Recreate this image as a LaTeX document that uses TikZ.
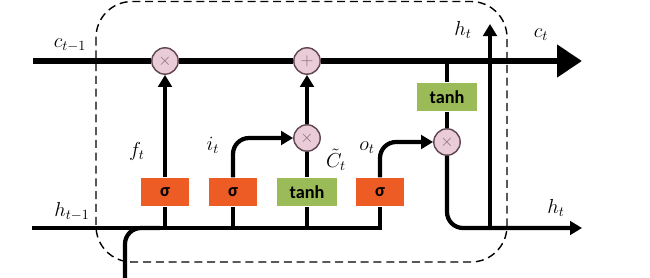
\documentclass[tikz,border=0pt]{standalone}
\usepackage{fontspec}
\setsansfont{Carlito}
\usetikzlibrary{arrows.meta,positioning,calc}
\definecolor{sigorange}{RGB}{238,92,38}
\definecolor{tanhgreen}{RGB}{155,187,89}
\definecolor{oppink}{RGB}{234,204,216}
\definecolor{opborder}{RGB}{95,70,80}

\begin{document}
\begin{tikzpicture}[
    x=0.025cm, y=-0.025cm,
    every node/.style={font=\Large},
    gate/.style={rectangle, fill=#1, inner sep=0pt, minimum height=0.72cm, minimum width=1.2cm, font=\sffamily\bfseries\fontsize{13}{15}\selectfont},
    sig/.style={gate=sigorange},
    act/.style={gate=tanhgreen, minimum width=1.5cm},
    op/.style={circle, draw=opborder, fill=oppink, line width=1pt, minimum size=0.66cm, inner sep=0pt, text=opborder!80, font=\large},
    wire/.style={line width=3pt, rounded corners=0.4cm},
    arr/.style={wire, -{Triangle[length=0.3cm, width=0.34cm]}},
    cellarr/.style={line width=4.5pt, -{Triangle[length=0.62cm, width=0.78cm]}},
    cellbox/.style={dashed, dash pattern=on 0.2cm off 0.12cm, line width=1pt, rounded corners=0.9cm},
]
\useasboundingbox (0,0) rectangle (650,277);
% cell border
\draw[cellbox] (96,1.5) rectangle (507,262);
% operators
\node[op] (fmul) at (165,61) {$\times$};
\node[op] (cadd) at (307,61) {$+$};
\node[op] (imul) at (307,138) {$\times$};
\node[op] (omul) at (447,142) {$\times$};
% gates
\node[sig] (fsig) at (165,192) {σ};
\node[sig] (isig) at (233,192) {σ};
\node[act] (cand) at (307,192) {tanh};
\node[sig] (osig) at (380,192) {σ};
\node[act] (ctanh) at (447,97) {tanh};
% free ends
\coordinate (cin) at (33,61);
\coordinate (cout) at (582,61);
\coordinate (hin) at (32,228);
\coordinate (hout) at (582,228);
\coordinate (hup) at (490,228);
\coordinate (htop) at (490,24);
\coordinate (xin) at (125,280);
\coordinate (xjoin) at (160,228);
% cell state
\draw[cellarr] (cin) -- (fmul) -- (cadd) -- (cout);
% hidden state in
\draw[wire, sharp corners] (hin) -| (osig);
\draw[wire] (xin) |- (xjoin);
% forget gate
\draw[wire] (fsig |- hin) -- (fsig);
\draw[arr] (fsig) -- (fmul);
% input gate
\draw[wire] (isig |- hin) -- (isig);
\draw[arr] (isig) |- (imul);
\draw[wire] (cand |- hin) -- (cand);
\draw[wire] (cand) -- (imul);
\draw[arr] (imul) -- (cadd);
% output gate
\draw[arr] (osig) |- (omul);
\draw[wire] (ctanh |- cin) -- (ctanh);
\draw[wire] (ctanh) -- (omul);
\draw[arr] (omul) |- (hout);
\draw[arr] (hup) -- (htop);
% labels
\node (cprev) at (70,45) {$c_{t-1}$};
\node (cnext) at (541,35) {$c_t$};
\node (hprev) at (72,212) {$h_{t-1}$};
\node (hnext) at (556,208) {$h_t$};
\node (htopl) at (463,30) {$h_t$};
\node (flab) at (137,151) {$f_t$};
\node (ilab) at (213,145) {$i_t$};
\node[inner sep=0.5pt] (clab) at (336,160) {$\tilde{C}_t$};
\node (olab) at (367,148) {$o_t$};
\end{tikzpicture}
\end{document}
